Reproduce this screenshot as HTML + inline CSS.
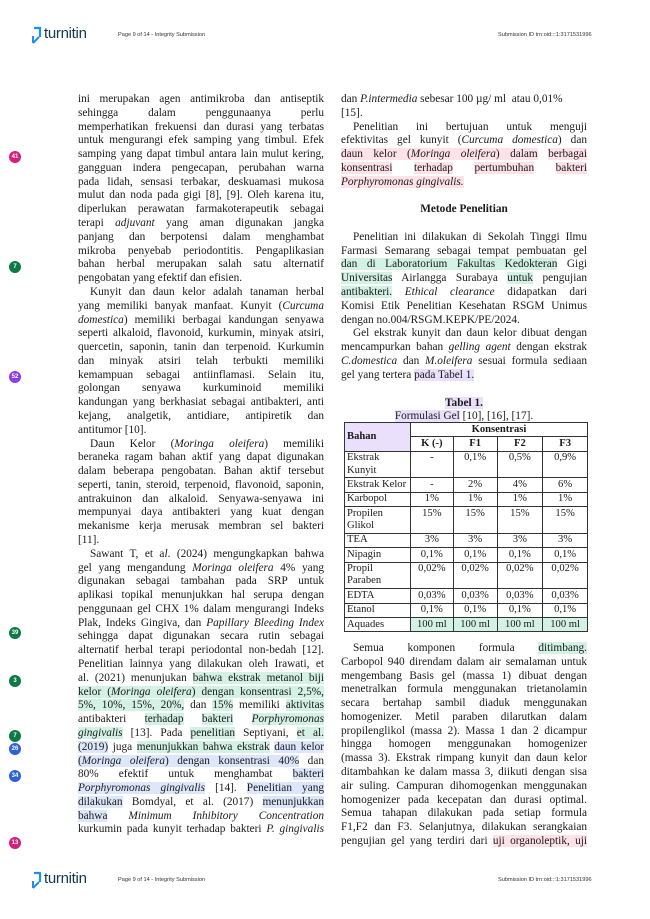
<!DOCTYPE html>
<html><head><meta charset="utf-8"><style>
body{margin:0;width:650px;height:919px;background:#fff;position:relative;overflow:hidden;font-family:"Liberation Serif",serif;color:#1a1a1a}
.col{position:absolute;top:93px;width:246px;font-size:11.3px;line-height:13.79px}
.l{text-align:justify;text-align-last:justify;height:13.79px}
.e{text-align:left;height:13.79px}
.in{text-indent:12px}
.b{height:13.79px}
.g{background:#d3f1e4}.bl{background:#dde7fb}.p{background:#fde2e9}.pu{background:#ebe0fb}
.hd{position:absolute;font-family:"Liberation Sans",sans-serif;font-size:5.6px;color:#333}
.logo{position:absolute;font-family:"Liberation Sans",sans-serif;font-size:15px;color:#16384a;letter-spacing:-0.3px}
.bd{position:absolute;left:9px;width:12px;height:12px;border-radius:50%;color:#fff;font-family:"Liberation Sans",sans-serif;font-size:6px;font-weight:bold;text-align:center;line-height:12px}
table{border-collapse:collapse;font-size:10.6px;line-height:12.2px}
td,th{border:1px solid #333;padding:0.6px 2px;vertical-align:top}
td.c{text-align:center}
</style></head><body>

<svg style="position:absolute;left:31px;top:26px" width="12" height="19" viewBox="0 0 12 19"><path d="M3 2 H9 V11" fill="none" stroke="#1e8ef0" stroke-width="2.2"/><path d="M2 17 L8 11 M2 10 V17" fill="none" stroke="#1e8ef0" stroke-width="2"/></svg>
<div class="logo" style="left:44px;top:25px">turnitin</div>
<div class="hd" style="left:118px;top:32px">Page 9 of 14 - Integrity Submission</div>
<div class="hd" style="left:498px;top:32px">Submission ID trn:oid:::1:3171531996</div>

<svg style="position:absolute;left:31px;top:871px" width="12" height="19" viewBox="0 0 12 19"><path d="M3 2 H9 V11" fill="none" stroke="#1e8ef0" stroke-width="2.2"/><path d="M2 17 L8 11 M2 10 V17" fill="none" stroke="#1e8ef0" stroke-width="2"/></svg>
<div class="logo" style="left:44px;top:870px">turnitin</div>
<div class="hd" style="left:118px;top:877px">Page 9 of 14 - Integrity Submission</div>
<div class="hd" style="left:498px;top:877px">Submission ID trn:oid:::1:3171531996</div>

<div class="bd" style="top:151px;background:#d51f7c">41</div>
<div class="bd" style="top:261px;background:#0d7a45">7</div>
<div class="bd" style="top:371px;background:#8b3de9">52</div>
<div class="bd" style="top:627px;background:#0d7a45">39</div>
<div class="bd" style="top:675px;background:#0d7a45">3</div>
<div class="bd" style="top:730px;background:#0d7a45">7</div>
<div class="bd" style="top:743px;background:#2f62d8">26</div>
<div class="bd" style="top:770px;background:#2f62d8">34</div>
<div class="bd" style="top:837px;background:#d51f7c">13</div>

<div class="col" style="left:78px">
<div class="l">ini merupakan agen antimikroba dan antiseptik</div>
<div class="l">sehingga dalam penggunaanya perlu</div>
<div class="l">memperhatikan frekuensi dan durasi yang terbatas</div>
<div class="l">untuk mengurangi efek samping yang timbul. Efek</div>
<div class="l">samping yang dapat timbul antara lain mulut kering,</div>
<div class="l">gangguan indera pengecapan, perubahan warna</div>
<div class="l">pada lidah, sensasi terbakar, deskuamasi mukosa</div>
<div class="l">mulut dan noda pada gigi [8], [9]. Oleh karena itu,</div>
<div class="l">diperlukan perawatan farmakoterapeutik sebagai</div>
<div class="l">terapi <i>adjuvant</i> yang aman digunakan jangka</div>
<div class="l">panjang dan berpotensi dalam menghambat</div>
<div class="l">mikroba penyebab periodontitis. Pengaplikasian</div>
<div class="l">bahan herbal merupakan salah satu alternatif</div>
<div class="e">pengobatan yang efektif dan efisien.</div>
<div class="l in">Kunyit dan daun kelor adalah tanaman herbal</div>
<div class="l">yang memiliki banyak manfaat. Kunyit (<i>Curcuma</i></div>
<div class="l"><i>domestica</i>) memiliki berbagai kandungan senyawa</div>
<div class="l">seperti alkaloid, flavonoid, kurkumin, minyak atsiri,</div>
<div class="l">quercetin, saponin, tanin dan terpenoid. Kurkumin</div>
<div class="l">dan minyak atsiri telah terbukti memiliki</div>
<div class="l">kemampuan sebagai antiinflamasi. Selain itu,</div>
<div class="l">golongan senyawa kurkuminoid memiliki</div>
<div class="l">kandungan yang berkhasiat sebagai antibakteri, anti</div>
<div class="l">kejang, analgetik, antidiare, antipiretik dan</div>
<div class="e">antitumor [10].</div>
<div class="l in">Daun Kelor (<i>Moringa oleifera</i>) memiliki</div>
<div class="l">beraneka ragam bahan aktif yang dapat digunakan</div>
<div class="l">dalam beberapa pengobatan. Bahan aktif tersebut</div>
<div class="l">seperti, tanin, steroid, terpenoid, flavonoid, saponin,</div>
<div class="l">antrakuinon dan alkaloid. Senyawa-senyawa ini</div>
<div class="l">mempunyai daya antibakteri yang kuat dengan</div>
<div class="l">mekanisme kerja merusak membran sel bakteri</div>
<div class="e">[11].</div>
<div class="l in">Sawant T, et a<i>l</i>. (2024) mengungkapkan bahwa</div>
<div class="l">gel yang mengandung <i>Moringa oleifera</i> 4% yang</div>
<div class="l">digunakan sebagai tambahan pada SRP untuk</div>
<div class="l">aplikasi topikal menunjukkan hal serupa dengan</div>
<div class="l">penggunaan gel CHX 1% dalam mengurangi Indeks</div>
<div class="l">Plak, Indeks Gingiva, dan <i>Papillary Bleeding Index</i></div>
<div class="l">sehingga dapat digunakan secara rutin sebagai</div>
<div class="l">alternatif herbal terapi periodontal non-bedah [12].</div>
<div class="l">Penelitian lainnya yang dilakukan oleh Irawati, et</div>
<div class="l">al. (2021) menunjukan <span class="g">bahwa ekstrak metanol biji</span></div>
<div class="l"><span class="g">kelor (<i>Moringa oleifera</i>) dengan konsentrasi 2,5%,</span></div>
<div class="l"><span class="g">5%, 10%, 15%, 20%,</span> dan <span class="g">15%</span> memiliki <span class="g">aktivitas</span></div>
<div class="l">antibakteri <span class="g">terhadap</span> <span class="g">bakteri</span> <span class="g"><i>Porphyromonas</i></span></div>
<div class="l"><span class="g"><i>gingivalis</i></span> [13]. Pada <span class="g">penelitian</span> Septiyani, <span class="g">et al.</span></div>
<div class="l"><span class="bl">(2019)</span> juga <span class="g">menunjukkan bahwa ekstrak</span> <span class="bl">daun kelor</span></div>
<div class="l"><span class="bl">(<i>Moringa oleifera</i>) dengan konsentrasi 40%</span> dan</div>
<div class="l">80% efektif untuk menghambat <span class="bl">bakteri</span></div>
<div class="l"><span class="bl"><i>Porphyromonas gingivalis</i></span> [14]. <span class="bl">Penelitian yang</span></div>
<div class="l"><span class="bl">dilakukan</span> Bomdyal, et al. (2017) <span class="bl">menunjukkan</span></div>
<div class="l"><span class="bl">bahwa</span> <i>Minimum Inhibitory Concentration</i></div>
<div class="l">kurkumin pada kunyit terhadap bakteri <i>P. gingivalis</i></div>
</div>

<div class="col" style="left:341px">
<div class="e">dan <i>P.intermedia</i> sebesar 100 µg/ ml &nbsp;atau 0,01%</div>
<div class="e">[15].</div>
<div class="l in">Penelitian ini bertujuan untuk menguji</div>
<div class="l">efektivitas gel kunyit (<i>Curcuma domestica</i>) dan</div>
<div class="l"><span class="p">daun kelor (<i>Moringa oleifera</i>) dalam</span> <span class="p">berbagai</span></div>
<div class="l"><span class="p">konsentrasi</span> <span class="p">terhadap</span> <span class="p">pertumbuhan</span> <span class="p">bakteri</span></div>
<div class="e"><span class="p"><i>Porphyromonas gingivalis.</i></span></div>
<div class="b"></div>
<div class="e" style="text-align:center;font-weight:bold">Metode Penelitian</div>
<div class="b"></div>
<div class="l in">Penelitian ini dilakukan di Sekolah Tinggi Ilmu</div>
<div class="l">Farmasi Semarang sebagai tempat pembuatan gel</div>
<div class="l"><span class="g">dan di Laboratorium Fakultas Kedokteran</span> Gigi</div>
<div class="l"><span class="g">Universitas</span> Airlangga Surabaya <span class="g">untuk</span> pengujian</div>
<div class="l"><span class="g">antibakteri.</span> <i>Ethical clearance</i> didapatkan dari</div>
<div class="l">Komisi Etik Penelitian Kesehatan RSGM Unimus</div>
<div class="e">dengan no.004/RSGM.KEPK/PE/2024.</div>
<div class="l in">Gel ekstrak kunyit dan daun kelor dibuat dengan</div>
<div class="l">mencampurkan bahan <i>gelling agent</i> dengan ekstrak</div>
<div class="l"><i>C.domestica</i> dan <i>M.oleifera</i> sesuai formula sediaan</div>
<div class="e">gel yang tertera <span class="pu">pada Tabel 1.</span></div>
</div>

<div style="position:absolute;left:341px;top:397px;width:246px;text-align:center;font-size:11.3px;line-height:13px">
<div><b class="pu">Tabel 1.</b></div>
<div><span class="pu">Formulasi Gel</span> [10], [16], [17].</div>
</div>

<table style="position:absolute;left:344px;top:422px;width:244px">
<colgroup><col style="width:66px"><col style="width:43px"><col style="width:44px"><col style="width:46px"><col style="width:45px"></colgroup>
<tr><th rowspan="2" style="text-align:left;vertical-align:middle;background:#ebe0fb">Bahan</th><th colspan="4">Konsentrasi</th></tr>
<tr><th>K (-)</th><th>F1</th><th>F2</th><th>F3</th></tr>
<tr><td>Ekstrak Kunyit</td><td class="c">-</td><td class="c">0,1%</td><td class="c">0,5%</td><td class="c">0,9%</td></tr>
<tr><td style="white-space:nowrap">Ekstrak Kelor</td><td class="c">-</td><td class="c">2%</td><td class="c">4%</td><td class="c">6%</td></tr>
<tr><td>Karbopol</td><td class="c">1%</td><td class="c">1%</td><td class="c">1%</td><td class="c">1%</td></tr>
<tr><td>Propilen Glikol</td><td class="c">15%</td><td class="c">15%</td><td class="c">15%</td><td class="c">15%</td></tr>
<tr><td>TEA</td><td class="c">3%</td><td class="c">3%</td><td class="c">3%</td><td class="c">3%</td></tr>
<tr><td>Nipagin</td><td class="c">0,1%</td><td class="c">0,1%</td><td class="c">0,1%</td><td class="c">0,1%</td></tr>
<tr><td>Propil Paraben</td><td class="c">0,02%</td><td class="c">0,02%</td><td class="c">0,02%</td><td class="c">0,02%</td></tr>
<tr><td>EDTA</td><td class="c">0,03%</td><td class="c">0,03%</td><td class="c">0,03%</td><td class="c">0,03%</td></tr>
<tr><td>Etanol</td><td class="c">0,1%</td><td class="c">0,1%</td><td class="c">0,1%</td><td class="c">0,1%</td></tr>
<tr><td>Aquades</td><td class="c g">100 ml</td><td class="c g">100 ml</td><td class="c g">100 ml</td><td class="c g">100 ml</td></tr>
</table>

<div class="col" style="left:341px;top:642px;line-height:13.6px">
<div class="l in">Semua komponen formula <span class="g">ditimbang.</span></div>
<div class="l">Carbopol 940 direndam dalam air semalaman untuk</div>
<div class="l">mengembang Basis gel (massa 1) dibuat dengan</div>
<div class="l">menetralkan formula menggunakan trietanolamin</div>
<div class="l">secara bertahap sambil diaduk menggunakan</div>
<div class="l">homogenizer. Metil paraben dilarutkan dalam</div>
<div class="l">propilenglikol (massa 2). Massa 1 dan 2 dicampur</div>
<div class="l">hingga homogen menggunakan homogenizer</div>
<div class="l">(massa 3). Ekstrak rimpang kunyit dan daun kelor</div>
<div class="l">ditambahkan ke dalam massa 3, diikuti dengan sisa</div>
<div class="l">air suling. Campuran dihomogenkan menggunakan</div>
<div class="l">homogenizer pada kecepatan dan durasi optimal.</div>
<div class="l">Semua tahapan dilakukan pada setiap formula</div>
<div class="l">F1,F2 dan F3. Selanjutnya, dilakukan serangkaian</div>
<div class="l">pengujian gel yang terdiri dari <span class="p">uji organoleptik, uji</span></div>
</div>
</body></html>
